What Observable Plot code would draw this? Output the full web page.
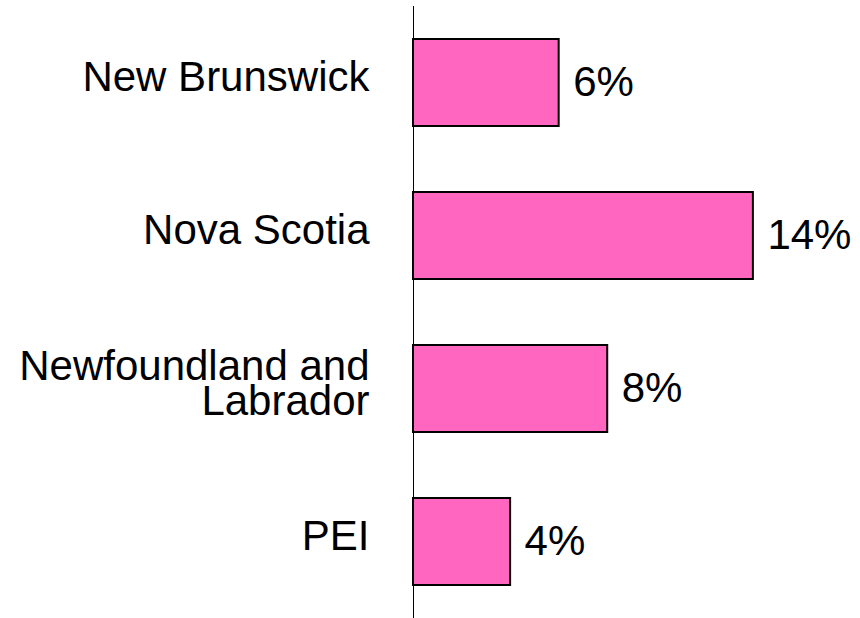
<!DOCTYPE html>
<html><head><meta charset="utf-8">
<script src="https://cdn.jsdelivr.net/npm/d3@7"></script>
<script src="https://cdn.jsdelivr.net/npm/@observablehq/plot@0.6"></script>
<style>body{margin:0;background:#fff}</style>
</head><body><div id="chart"></div>
<script>
const provinces = ["New Brunswick", "Nova Scotia", "Newfoundland and\nLabrador", "PEI"];
const shares = [6, 14, 8, 4];
const valueLabels = ["6%", "14%", "8%", "4%"];

const data = provinces.map((p, i) => ({province: p, share: shares[i], label: valueLabels[i]}));

const chart = Plot.plot({
  width: 860, height: 618,
  marginLeft: 413, marginRight: 10, marginTop: 6, marginBottom: 0,
  style: {fontFamily: "Arial, 'Liberation Sans', sans-serif", background: "#fff", color: "#000"},
  x: {domain: [0, 18], axis: null},
  y: {domain: provinces, paddingInner: 0.43, paddingOuter: 0.215, label: null, axis: null},
  marks: [
    Plot.barX(data, {y: "province", x: "share", fill: "#ff66bf", stroke: "#000", strokeWidth: 2}),
    Plot.ruleX([0], {stroke: "#000", strokeWidth: 1}),
    Plot.text(data, {y: "province", x: "share", text: "label", textAnchor: "start", dx: 14, fontSize: 42, fill: "#000"}),
    Plot.axisY({tickSize: 0, tickPadding: 44, fontSize: 42, lineHeight: 0.84, dy: -3, label: null, fill: "#000"})
  ]
});
document.getElementById("chart").appendChild(chart);
</script>
</body></html>
